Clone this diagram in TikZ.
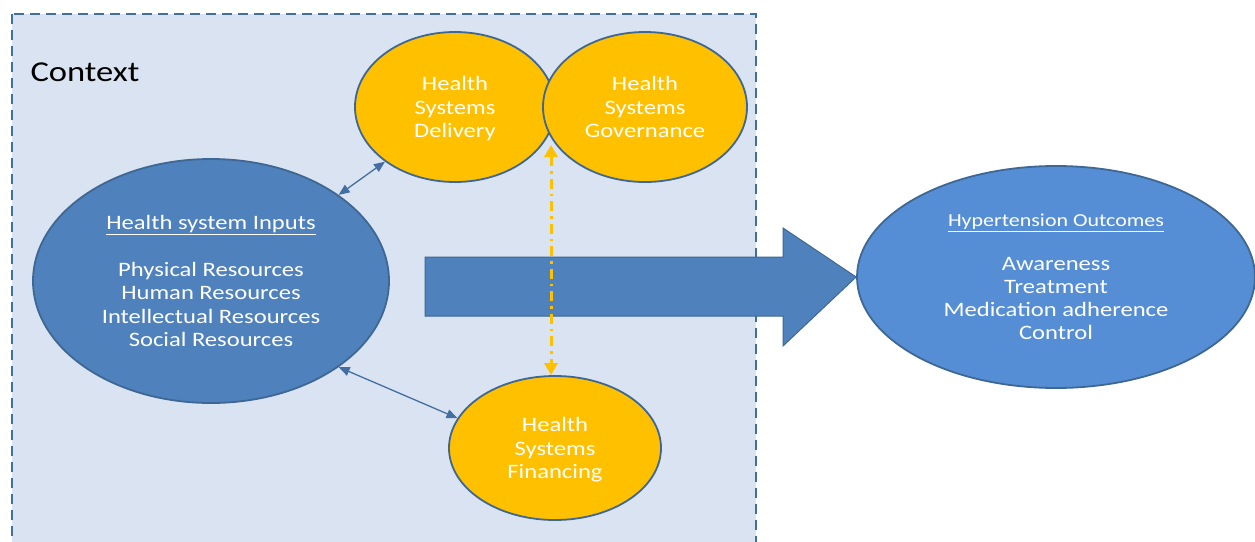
\documentclass[tikz,border=0pt]{standalone}
\usepackage{fontspec}
\setmainfont[FakeStretch=1.2]{Carlito}
\usetikzlibrary{shapes.geometric,arrows.meta}
\definecolor{boxfill}{HTML}{DAE3F1}
\definecolor{boxline}{HTML}{41709C}
\definecolor{inpfill}{HTML}{4F81BD}
\definecolor{outfill}{HTML}{558ED5}
\definecolor{yel}{HTML}{FFC000}
\definecolor{edge}{HTML}{3E6893}
\tikzset{
  oval/.style={ellipse, draw=edge, line width=1.8pt, inner sep=0pt, text=white, align=center,
    text depth=0pt, font=\fontsize{20.5}{23.3}\selectfont},
  yoval/.style={oval, fill=yel},
  link/.style={draw=inpfill!85!black, line width=1.3pt, {Triangle[length=11pt,width=9pt]}-{Triangle[length=11pt,width=9pt]}},
  ylink/.style={draw=yel, line width=3pt, dash pattern=on 10pt off 5pt on 2.5pt off 5pt,
    {Triangle[length=12pt,width=13pt]}-{Triangle[length=12pt,width=13pt]}},
}
\begin{document}
\begin{tikzpicture}[x=1pt,y=-1pt]
\useasboundingbox (0,0) rectangle (1255,541);
\clip (0,0) rectangle (1255,541);
\fill[white] (0,0) rectangle (1255,541);
\draw[boxline, fill=boxfill, line width=2.6pt, dash pattern=on 10pt off 6pt] (12,14) rectangle (756,580);
\node[anchor=west, font=\fontsize{28.8}{32}\selectfont] (ctx) at (27,72) {Context};

\node[yoval, minimum width=200pt, minimum height=150pt] (del) at (455,107) {Health\\Systems\\Delivery};
\node[yoval, minimum width=204pt, minimum height=150pt] (gov) at (645,107) {Health\\Systems\\Governance};
\node[yoval, minimum width=212pt, minimum height=144pt] (fin) at (555,448) {Health\\Systems\\Financing};
\node[oval, fill=inpfill, minimum width=356pt, minimum height=244pt] (inp) at (211,281)
  {\underline{Health system Inputs}\\[23.3pt]Physical Resources\\Human Resources\\Intellectual Resources\\Social Resources};
\node[oval, fill=outfill, minimum width=398pt, minimum height=222pt] (out) at (1056,277)
  {{\fontsize{18.3}{23.3}\selectfont\underline{Hypertension Outcomes}}\\[20pt]Awareness\\Treatment\\Medication adherence\\Control};

\draw[link] (inp.34.7) -- (del.218.6);
\draw[link] (inp.-34.1) -- (fin.163.6);

\draw[draw=edge, line width=1pt, fill=inpfill] (425,257) -- (783,257) -- (783,228) -- (out.west) -- (783,346) -- (783,316) -- (425,316) -- cycle;

\coordinate (ytop) at (551,145);
\draw[ylink] (ytop) -- (ytop |- fin.north);
\end{tikzpicture}
\end{document}
